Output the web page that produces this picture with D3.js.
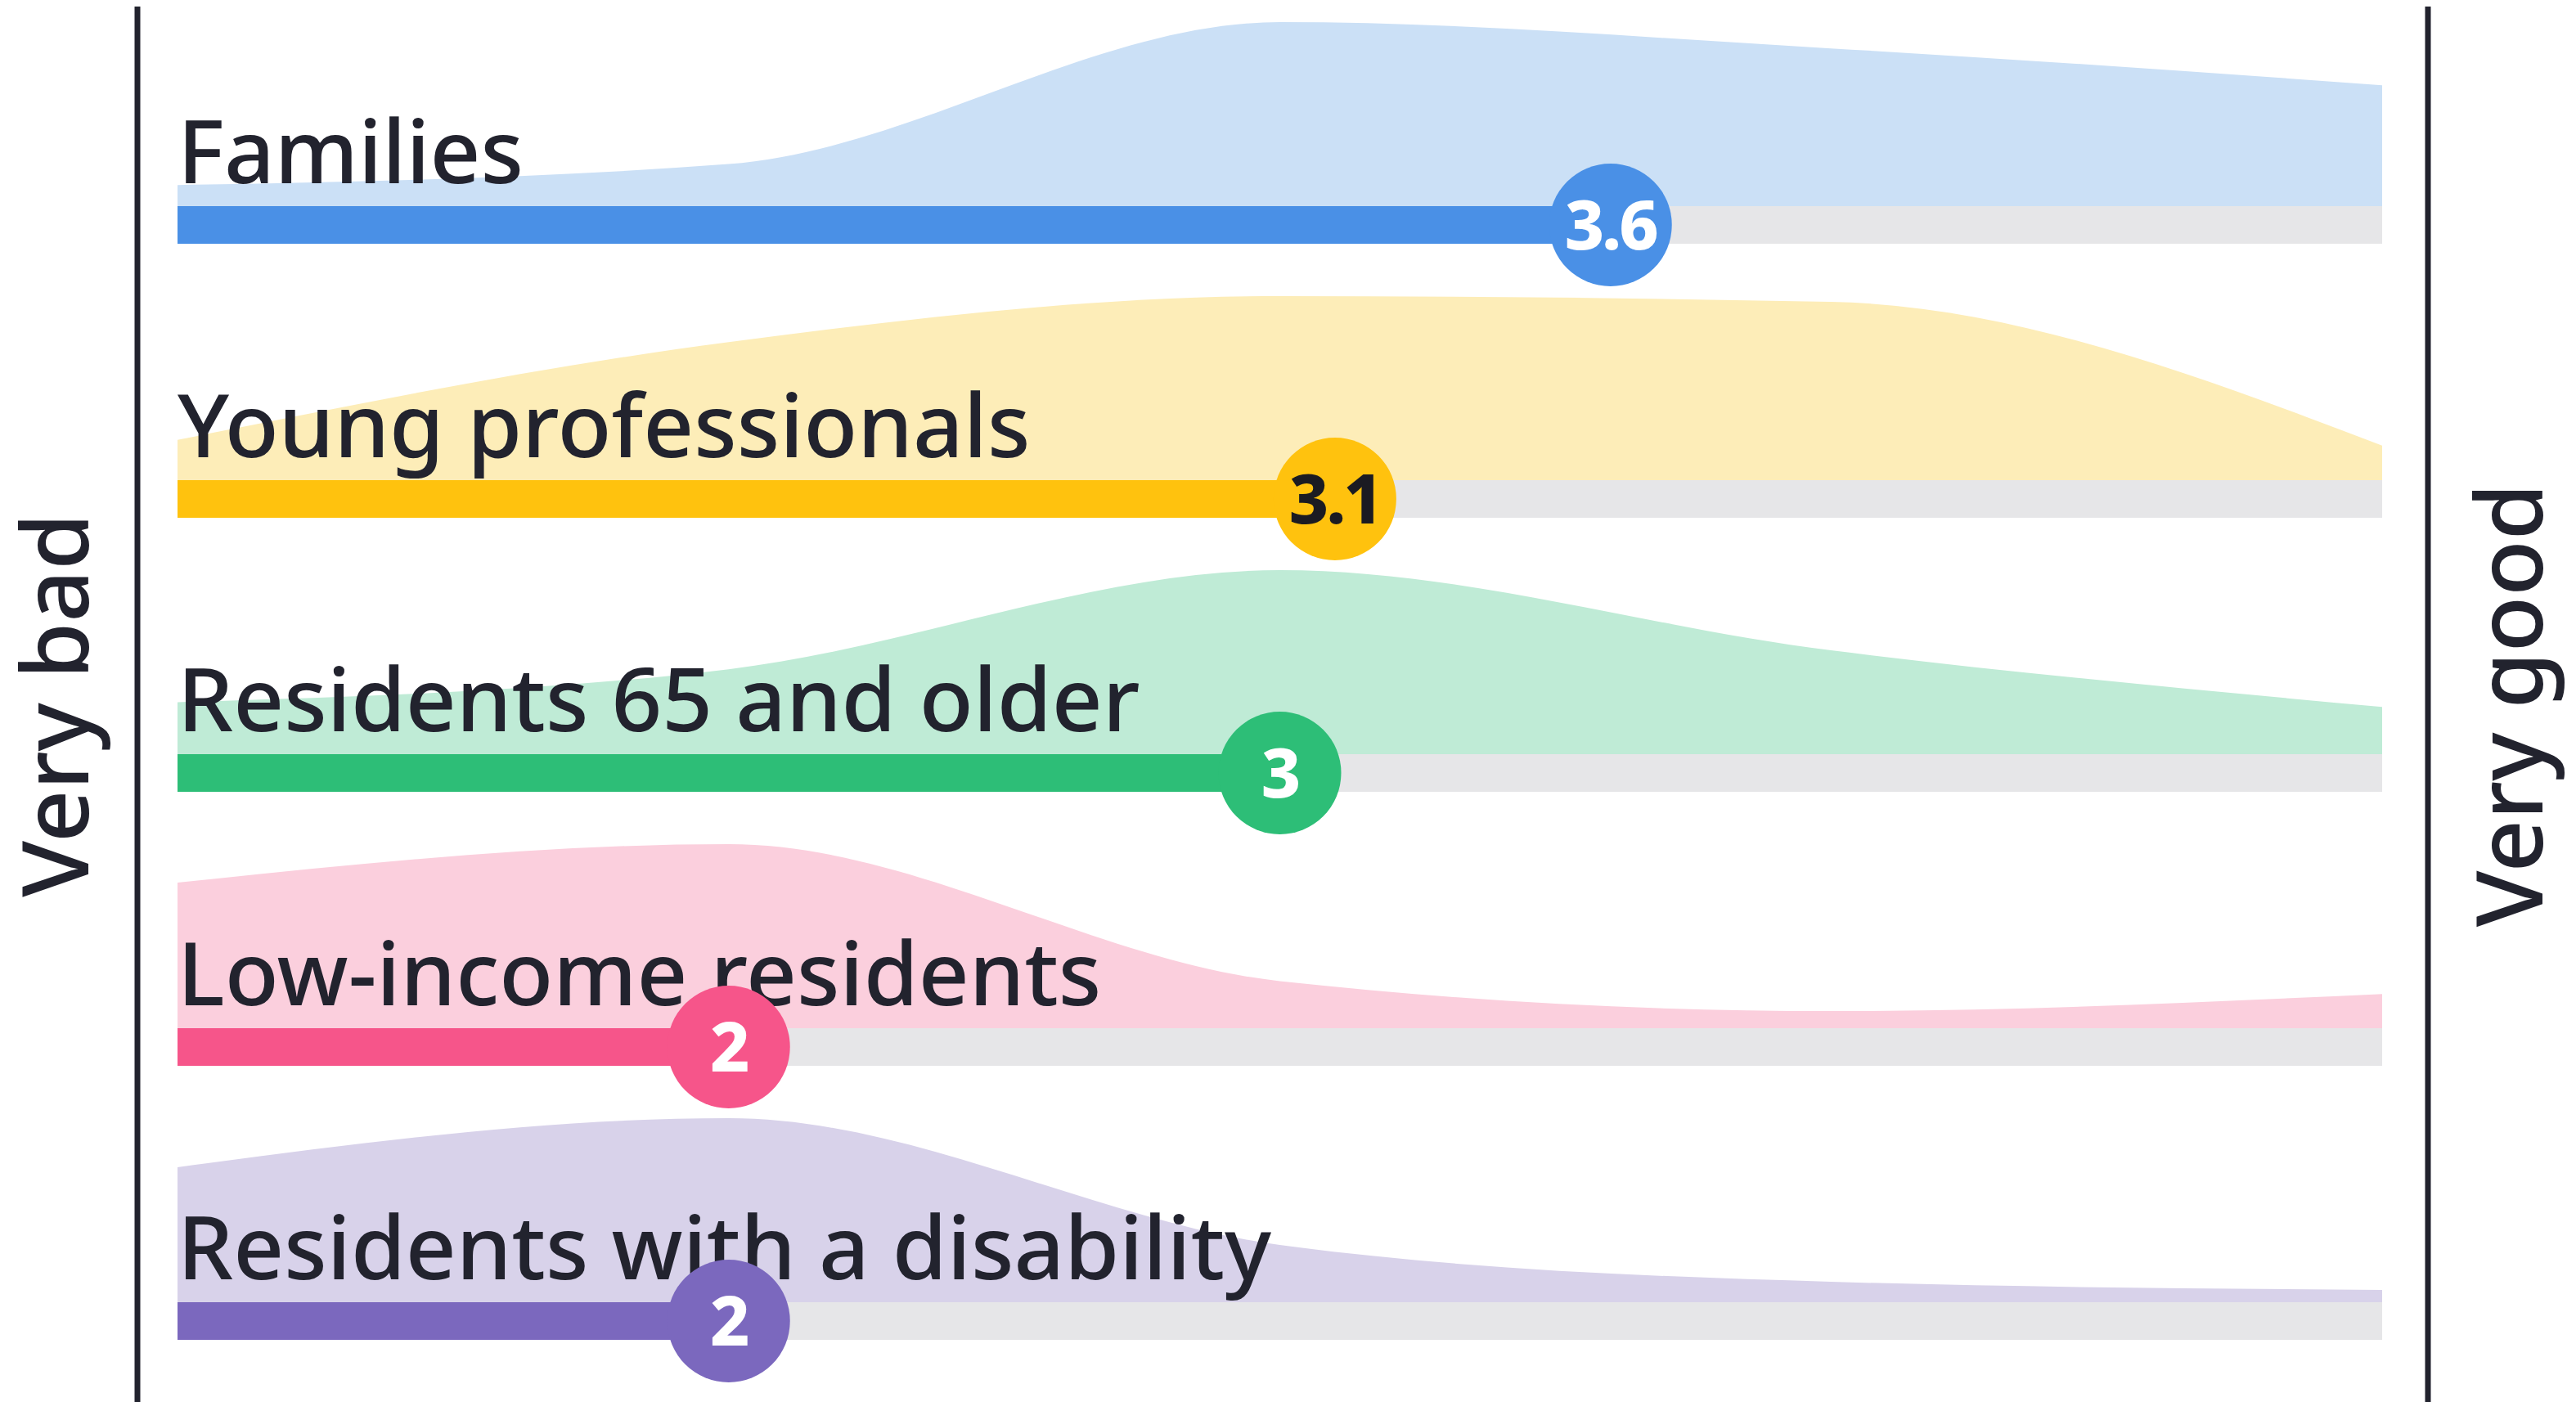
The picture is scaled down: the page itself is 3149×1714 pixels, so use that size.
<!DOCTYPE html>
<html>
<head>
<meta charset="utf-8">
<script src="https://cdn.jsdelivr.net/npm/d3@7"></script>
<style>
  html, body { margin: 0; padding: 0; background: #fff; }
  svg { display: block; }
</style>
</head>
<body>
<svg></svg>
<script>
const width = 3149;
const height = 1714;

// groups, rounded mean score, share of answers on the 1..5 scale
const groups = ['Families', 'Young professionals', 'Residents 65 and older', 'Low-income residents', 'Residents with a disability'];
const scores = [3.6, 3.1, 3, 2, 2];
const scoreLabels = ['3.6', '3.1', '3', '2', '2'];
const scaleSteps = [1, 2, 3, 4, 5];
const shares = [
  [4, 8, 35, 30, 23],
  [7, 24, 32, 31, 6],
  [11, 18, 39, 22, 10],
  [34, 43, 11, 4, 8],
  [33, 45, 14, 5, 3]
];
const barColors = ['#4a90e6', '#ffc20e', '#2dbe77', '#f6558a', '#7b68be'];
const areaColors = ['#cbe0f6', '#fdedb8', '#bfebd6', '#fbcfdd', '#d8d2ea'];
const numberColors = ['#ffffff', '#1b1b22', '#ffffff', '#ffffff', '#ffffff'];
const endLabels = ['Very bad', 'Very good'];

const ink = '#22232e';
const font = '"Noto Sans", sans-serif';

const svg = d3.select('svg')
    .attr('width', width)
    .attr('height', height);

const x = d3.scaleLinear().domain([1, 5]).range([217, 2912]);
const y = d3.scalePoint().domain(groups).range([275, 1615]);
const barH = 46;
const peakH = 225;

const rows = groups.map((g, i) => ({
  name: g, score: scores[i], label: scoreLabels[i], shares: shares[i],
  bar: barColors[i], area: areaColors[i], num: numberColors[i]
}));

const row = svg.selectAll('g.row')
  .data(rows)
  .enter().append('g')
    .attr('class', 'row')
    .attr('transform', d => `translate(0,${y(d.name)})`);

// density shapes sit on top of the bar
row.each(function(d) {
  const h = d3.scaleLinear().domain([0, d3.max(d.shares)]).range([0, peakH]);
  const area = d3.area()
    .x((v, j) => x(scaleSteps[j]))
    .y0(-barH / 2)
    .y1(v => -barH / 2 - h(v))
    .curve(d3.curveMonotoneX);
  d3.select(this).append('path')
    .attr('d', area(d.shares))
    .attr('fill', d.area);
});

// grey track
row.append('rect')
    .attr('x', x(1))
    .attr('y', -barH / 2)
    .attr('width', x(5) - x(1))
    .attr('height', barH)
    .attr('fill', '#e6e6e8');

// coloured bar up to the score
row.append('rect')
    .attr('x', x(1))
    .attr('y', -barH / 2)
    .attr('width', d => x(d.score) - x(1))
    .attr('height', barH)
    .attr('fill', d => d.bar);

row.append('text')
    .attr('x', x(1))
    .attr('y', -barH / 2 - 28)
    .attr('font-family', font)
    .attr('font-size', 108)
    .attr('font-weight', 500)
    .attr('fill', ink)
    .text(d => d.name);

row.append('circle')
    .attr('cx', d => x(d.score))
    .attr('cy', 0)
    .attr('r', 75)
    .attr('fill', d => d.bar);

row.append('text')
    .attr('x', d => x(d.score))
    .attr('y', 0)
    .attr('dy', '0.36em')
    .attr('text-anchor', 'middle')
    .attr('font-family', font)
    .attr('font-size', 84)
    .attr('font-weight', 800)
    .attr('letter-spacing', -3)
    .attr('fill', d => d.num)
    .text(d => d.label);

// end lines
svg.selectAll('line.end')
  .data([168, 2968])
  .enter().append('line')
    .attr('x1', d => d).attr('x2', d => d)
    .attr('y1', 8).attr('y2', height)
    .attr('stroke', ink)
    .attr('stroke-width', 7);

svg.selectAll('text.end')
  .data(endLabels)
  .enter().append('text')
    .attr('class', 'end')
    .attr('transform', (d, i) => `translate(${i ? 3108 : 108},862) rotate(-90)`)
    .attr('text-anchor', 'middle')
    .attr('font-family', font)
    .attr('font-size', 112)
    .attr('font-weight', 500)
    .attr('fill', ink)
    .text(d => d);
</script>
</body>
</html>
